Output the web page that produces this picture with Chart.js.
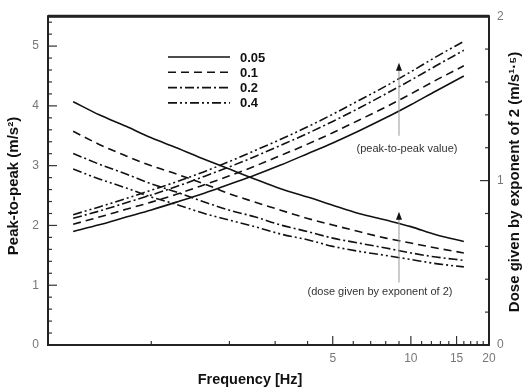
<!DOCTYPE html>
<html><head><meta charset="utf-8">
<script src="https://cdn.jsdelivr.net/npm/chart.js@4/dist/chart.umd.min.js"></script>
<style>html,body{margin:0;padding:0;background:#fff;overflow:hidden}#wrap{width:527px;height:389px}</style>
</head><body><div id="wrap"><canvas id="c" width="527" height="389"></canvas></div>
<script>
const frequencies = [0.5,0.63,0.8,1,1.25,1.6,2,2.5,3.15,4,5,6.3,8,10,12.5,16];
const seriesLabels = ['0.05','0.1','0.2','0.4'];
// peak-to-peak values (left axis, m/s²)
const peak005 = [1.90,2.01,2.14,2.26,2.39,2.54,2.69,2.84,3.01,3.20,3.38,3.58,3.80,4.02,4.25,4.50];
const peak01  = [2.02,2.14,2.27,2.39,2.52,2.68,2.83,2.99,3.17,3.36,3.55,3.76,3.98,4.20,4.43,4.67];
const peak02  = [2.12,2.24,2.38,2.51,2.65,2.82,2.98,3.15,3.34,3.54,3.74,3.96,4.20,4.43,4.67,4.93];
const peak04  = [2.18,2.31,2.45,2.59,2.73,2.90,3.07,3.25,3.44,3.65,3.86,4.09,4.33,4.57,4.82,5.08];
// dose given by exponent of 2 (right axis, m/s^1.5)
const dose005 = [1.48,1.40,1.33,1.26,1.20,1.13,1.07,1.01,0.95,0.90,0.85,0.80,0.76,0.72,0.67,0.63];
const dose01  = [1.30,1.22,1.15,1.09,1.04,0.98,0.92,0.87,0.82,0.77,0.73,0.69,0.65,0.62,0.59,0.56];
const dose02  = [1.165,1.10,1.04,0.98,0.93,0.87,0.82,0.78,0.73,0.69,0.65,0.62,0.59,0.56,0.535,0.515];
const dose04  = [1.07,1.01,0.955,0.90,0.855,0.80,0.76,0.72,0.675,0.64,0.60,0.57,0.545,0.52,0.495,0.475];
const xTickLabels = [5,10,15,20];
const xMinorTicks = [1,2,3,4,6,7,8,9,11,12,13,14,16,17,18,19];
const leftTicks = [0,1,2,3,4,5];
const rightTicks = [0,1,2];

const dashes = [[], [8,5], [9,3,2,3], [9,3,2,3,2,3]];
const peakSeries = [peak005, peak01, peak02, peak04];
const doseSeries = [dose005, dose01, dose02, dose04];

function pts(arr){ return frequencies.map((f,i)=>({x:f,y:arr[i]})); }
const datasets = [];
peakSeries.forEach((s,i)=>datasets.push({label:seriesLabels[i],data:pts(s),yAxisID:'y',borderColor:'#111',borderWidth:1.6,borderDash:dashes[i],pointRadius:0,cubicInterpolationMode:'monotone',fill:false}));
doseSeries.forEach((s,i)=>datasets.push({label:seriesLabels[i],data:pts(s),yAxisID:'y1',borderColor:'#111',borderWidth:1.6,borderDash:dashes[i],pointRadius:0,cubicInterpolationMode:'monotone',fill:false}));

const FF = 'Liberation Sans, Arial, sans-serif';
const tickFont = {family:FF, size:12};
const decor = {
  id:'decor',
  afterDraw(chart){
    const ctx = chart.ctx, a = chart.chartArea;
    const xs = chart.scales.x, ys = chart.scales.y, y1 = chart.scales.y1;
    ctx.save();
    ctx.strokeStyle = '#333'; ctx.lineWidth = 1.2;
    const line=(x0,y0,x1,y1_)=>{ctx.beginPath();ctx.moveTo(x0,y0);ctx.lineTo(x1,y1_);ctx.stroke();};
    for(let v=0; v<=5.5001; v+=0.2){ const p=ys.getPixelForValue(v); const major=Math.abs(v-Math.round(v))<1e-6; line(a.left,p,a.left+(major?9:4),p); }
    for(let v=0; v<=2.0001; v+=0.2){ const p=y1.getPixelForValue(v); const major=Math.abs(v-Math.round(v))<1e-6; line(a.right,p,a.right-(major?9:4),p); }
    xTickLabels.forEach(v=>{const p=xs.getPixelForValue(v); line(p,a.bottom,p,a.bottom-9);});
    xMinorTicks.forEach(v=>{const p=xs.getPixelForValue(v); line(p,a.bottom,p,a.bottom-4);});
    // frame
    ctx.strokeStyle='#222'; ctx.lineWidth=2;
    ctx.strokeRect(a.left,a.top,a.right-a.left,a.bottom-a.top);
    ctx.lineWidth=3; line(a.left,a.top,a.right,a.top);
    // legend
    ctx.font='bold 13px '+FF; ctx.fillStyle='#111'; ctx.textBaseline='middle'; ctx.textAlign='left';
    seriesLabels.forEach((lab,i)=>{ const yy=57+i*15.3; ctx.strokeStyle='#111'; ctx.lineWidth=1.6; ctx.setLineDash(dashes[i]); line(168,yy,230,yy); ctx.setLineDash([]); ctx.fillText(lab,240,yy+1); });
    // annotation arrows
    const ax = xs.getPixelForValue(9);
    const arrow=(x,yb,yt)=>{ ctx.strokeStyle='#999'; ctx.lineWidth=1; line(x,yb,x,yt+6); ctx.fillStyle='#111'; ctx.beginPath(); ctx.moveTo(x,yt); ctx.lineTo(x-3,yt+8); ctx.lineTo(x+3,yt+8); ctx.closePath(); ctx.fill(); };
    arrow(ax, ys.getPixelForValue(3.5), ys.getPixelForValue(4.72));
    arrow(ax, y1.getPixelForValue(0.38), y1.getPixelForValue(0.81));
    ctx.fillStyle='#333'; ctx.font='11px '+FF; ctx.textAlign='center';
    ctx.fillText('(peak-to-peak value)', ax+8, ys.getPixelForValue(3.28));
    ctx.fillText('(dose given by exponent of 2)', ax-19, y1.getPixelForValue(0.32));
    // titles
    ctx.fillStyle='#111'; ctx.font='bold 14.5px '+FF;
    ctx.fillText('Frequency [Hz]', 250, 380);
    ctx.font='bold 15px '+FF;
    ctx.save(); ctx.translate(14,186); ctx.rotate(-Math.PI/2); ctx.fillText('Peak-to-peak (m/s²)',0,0); ctx.restore();
    ctx.save(); ctx.translate(515,182); ctx.rotate(-Math.PI/2); ctx.fillText('Dose given by exponent of 2 (m/s¹·⁵)',0,0); ctx.restore();
    ctx.restore();
  }
};

new Chart(document.getElementById('c'), {
  type:'line',
  data:{datasets},
  options:{
    responsive:false, animation:false, devicePixelRatio:1,
    layout:{padding:{top:13,left:0,right:0,bottom:0}},
    plugins:{legend:{display:false}, tooltip:{enabled:false}},
    scales:{
      x:{type:'logarithmic', min:0.4, max:20, grid:{display:false,drawTicks:false}, border:{display:false},
         afterBuildTicks(s){ s.ticks = xTickLabels.map(v=>({value:v})); },
         afterFit(s){ s.height = 44; },
         ticks:{color:'#777', font:tickFont, padding:6, maxRotation:0, autoSkip:false, callback:(v)=>String(v)}},
      y:{type:'linear', position:'left', min:0, max:5.5, grid:{display:false,drawTicks:false}, border:{display:false},
         afterBuildTicks(s){ s.ticks = leftTicks.map(v=>({value:v})); },
         afterFit(s){ s.width = 48; },
         ticks:{color:'#777', font:tickFont, padding:9}},
      y1:{type:'linear', position:'right', min:0, max:2, grid:{display:false,drawTicks:false}, border:{display:false},
         afterBuildTicks(s){ s.ticks = rightTicks.map(v=>({value:v})); },
         afterFit(s){ s.width = 38; },
         ticks:{color:'#777', font:tickFont, padding:8}}
    }
  },
  plugins:[decor]
});
</script></body></html>
